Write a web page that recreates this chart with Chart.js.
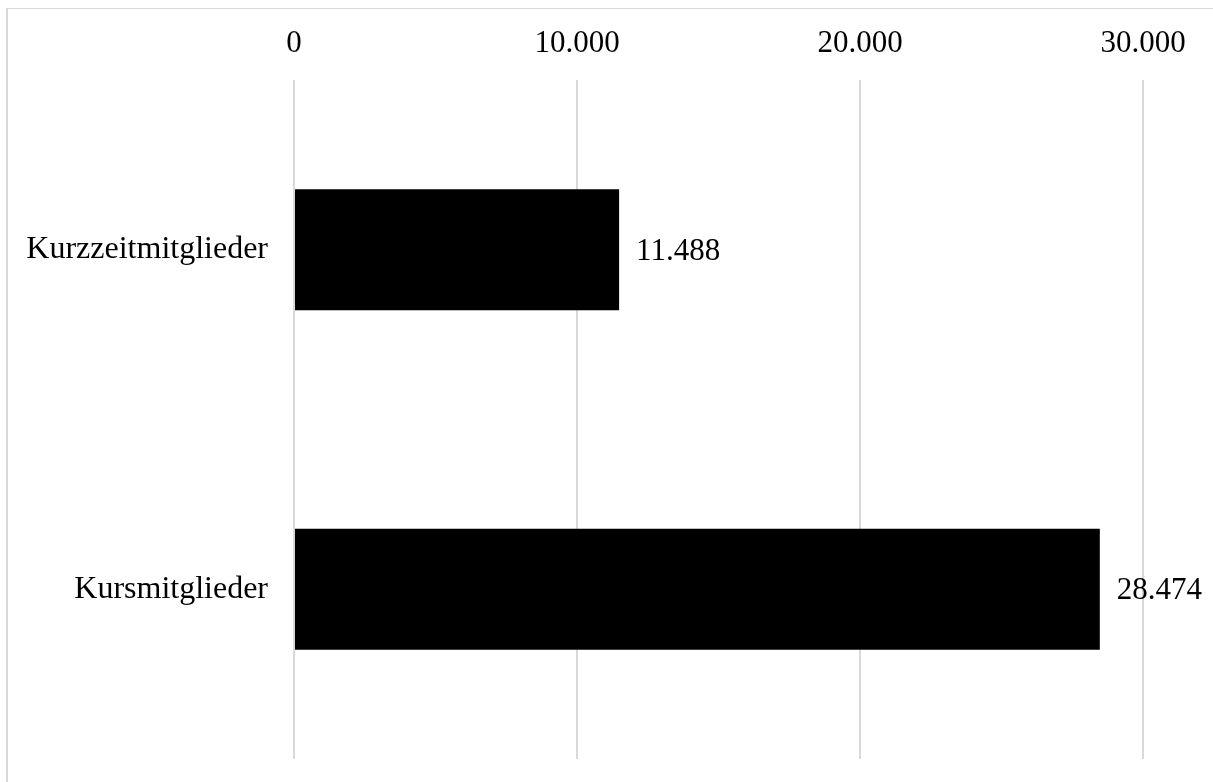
<!DOCTYPE html>
<html>
<head>
<meta charset="utf-8">
<script src="https://cdn.jsdelivr.net/npm/chart.js@4"></script>
<style>
  html, body { margin: 0; padding: 0; background: #fff; overflow: hidden; }
  .frame {
    position: absolute; left: 6px; top: 8px; width: 1300px; height: 900px;
    border-left: 2px solid #d9d9d9; border-top: 1.5px solid #d9d9d9;
  }
  .wrap { position: absolute; left: 0; top: 0; width: 1213px; height: 782px; }
</style>
</head>
<body>
<div class="frame"></div>
<div class="wrap"><canvas id="barChart"></canvas></div>
<script>
// member counts per group
const categories = ['Kurzzeitmitglieder', 'Kursmitglieder'];
const members = [11488, 28474];
const tickValues = [0, 10000, 20000, 30000];

const FONT = "'Liberation Serif', 'Times New Roman', serif";

// 28474 -> "28.474"
function fmt(n) {
  return String(Math.round(n)).replace(/\B(?=(\d{3})+(?!\d))/g, '.');
}

// value labels to the right of each bar
const valueLabels = {
  id: 'valueLabels',
  afterDatasetsDraw(chart) {
    const ctx = chart.ctx;
    const meta = chart.getDatasetMeta(0);
    ctx.save();
    ctx.font = '31px ' + FONT;
    ctx.fillStyle = '#000';
    ctx.textAlign = 'left';
    ctx.textBaseline = 'middle';
    meta.data.forEach((bar, i) => {
      ctx.fillText(fmt(members[i]), bar.x + 17, bar.y + 2);
    });
    ctx.restore();
  }
};

new Chart(document.getElementById('barChart'), {
  type: 'bar',
  data: {
    labels: categories,
    datasets: [{
      data: members,
      backgroundColor: '#000',
      borderWidth: 0,
      categoryPercentage: 1,
      barPercentage: 0.357
    }]
  },
  options: {
    indexAxis: 'y',
    responsive: true,
    maintainAspectRatio: false,
    animation: false,
    layout: { padding: { top: 0, right: 70, bottom: 23, left: 0 } },
    plugins: {
      legend: { display: false },
      tooltip: { enabled: false }
    },
    scales: {
      x: {
        position: 'top',
        min: 0,
        max: 30000,
        afterFit(scale) { scale.height = 80; },
        afterBuildTicks(scale) { scale.ticks = tickValues.map(v => ({ value: v })); },
        ticks: {
          color: '#000',
          font: { family: FONT, size: 31 },
          padding: 18,
          callback: v => fmt(v)
        },
        grid: { color: '#d9d9d9', lineWidth: 2, drawTicks: false },
        border: { display: false }
      },
      y: {
        // labels sit mid-band, so no extra room is needed above/below
        afterFit(scale) {
          scale.width = 294;
          scale.paddingTop = 0;
          scale.paddingBottom = 0;
        },
        ticks: {
          color: '#000',
          font: { family: FONT, size: 32 },
          padding: 26
        },
        grid: { display: false, drawTicks: false },
        border: { display: false }
      }
    }
  },
  plugins: [valueLabels]
});
</script>
</body>
</html>
